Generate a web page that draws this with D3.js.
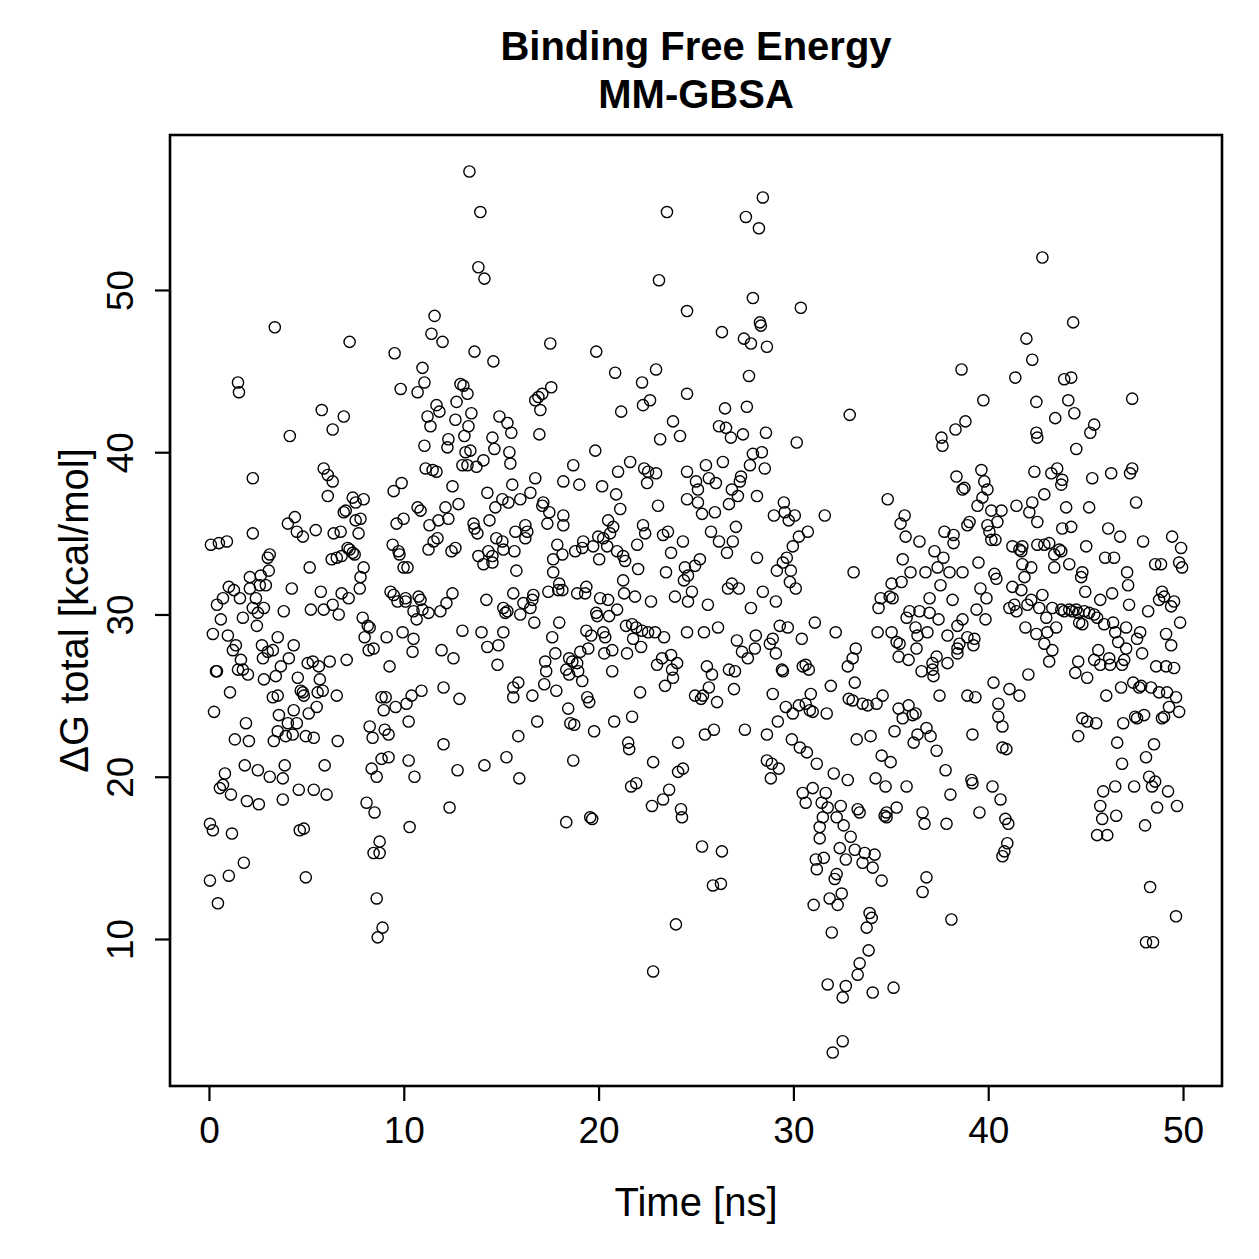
<!DOCTYPE html>
<html>
<head>
<meta charset="utf-8">
<script src="https://cdn.jsdelivr.net/npm/d3@7"></script>
<style>
  body { margin: 0; background: #fff; }
  svg text { font-family: "Liberation Sans", Arial, Helvetica, sans-serif; fill: #000; }
</style>
</head>
<body>
<svg id="chart" width="1259" height="1259"></svg>
<script>
// MM-GBSA total binding free energy per frame, [time ns, dG kcal/mol]
var block0to7 = [
  [3.38,47.7],[1.49,44.3],[1.54,43.7],[5.79,42.6],[6.92,42.2],[6.35,41.4],[4.15,41.0],[7.22,46.8],[2.25,38.4],[5.89,39.0],
  [6.10,38.6],[6.35,38.2],[6.10,37.3],[7.38,37.2],[6.92,36.3],[7.02,36.4],[4.41,36.0],[4.05,35.6],[4.51,35.1],[4.82,34.8],
  [5.48,35.2],[6.40,35.0],[6.76,35.1],[2.25,35.0],[0.10,34.3],[0.51,34.4],[0.92,34.5],[7.12,34.1],[3.12,33.7],[3.02,33.5],
  [6.30,33.4],[6.56,33.5],[6.81,33.6],[5.17,32.9],[3.07,32.7],[2.66,32.4],[2.10,32.3],[1.02,31.7],[1.28,31.5],[2.10,31.6],
  [2.61,31.8],[2.92,31.8],[4.25,31.6],[5.74,31.4],[6.81,31.3],[0.72,31.0],[0.41,30.6],[1.59,31.0],[2.41,31.0],[3.84,30.2],
  [5.23,30.3],[5.89,30.3],[6.35,30.6],[6.66,30.0],[2.25,30.4],[2.82,30.4],[2.51,30.1],[0.61,29.7],[1.74,29.8],[2.46,29.3],
  [0.20,28.8],[0.97,28.7],[1.38,28.1],[1.23,27.8],[2.72,28.1],[3.02,27.7],[3.28,27.8],[3.53,28.6],[4.35,28.1],[4.10,27.3],
  [3.69,26.8],[3.43,26.2],[2.77,27.3],[1.64,27.2],[1.49,26.6],[1.74,26.6],[2.00,26.3],[0.41,26.5],[0.36,26.5],[2.82,26.0],
  [5.07,27.0],[5.33,27.1],[5.64,26.8],[6.20,27.1],[7.07,27.2],[4.56,26.1],[5.69,26.0],[1.08,25.2],[3.28,24.9],[3.53,25.0],
  [4.71,25.3],[4.82,25.2],[4.87,25.0],[5.58,25.2],[5.84,25.3],[6.56,25.0],[0.26,24.0],[1.90,23.3],[3.59,23.8],[4.35,24.1],
  [5.12,23.9],[5.53,24.3],[4.05,23.3],[4.51,23.3],[3.53,22.8],[3.33,22.2],[3.94,22.5],[4.30,22.6],[4.97,22.5],[5.38,22.4],
  [1.33,22.3],[2.05,22.2],[6.61,22.2],[1.84,20.7],[2.51,20.4],[3.12,20.0],[3.79,19.9],[3.89,20.7],[5.94,20.7],[0.82,20.2],
  [0.72,19.5],[0.56,19.3],[1.13,18.9],[1.95,18.5],[2.56,18.3],[3.79,18.6],[4.61,19.2],[5.38,19.2],[6.04,18.9],[0.05,17.1],
  [0.20,16.7],[1.18,16.5],[4.66,16.7],[4.87,16.8],[1.79,14.7],[1.02,13.9],[0.05,13.6],[4.97,13.8],[0.46,12.2]
];

var block7to16 = [
  [13.37,57.3],[13.93,54.8],[13.83,51.4],[14.14,50.7],[11.58,48.4],[11.42,47.3],[11.99,46.8],[9.53,46.1],[13.63,46.2],[14.60,45.6],
  [10.96,45.2],[11.06,44.3],[10.71,43.7],[9.84,43.9],[12.91,44.2],[13.06,44.1],[13.27,43.6],[12.71,43.1],[11.68,42.9],[11.83,42.5],
  [11.22,42.2],[11.37,41.6],[12.65,42.0],[13.47,42.4],[13.32,41.6],[13.11,41.0],[14.91,42.2],[15.32,41.8],[15.52,41.2],[11.06,40.4],
  [12.29,40.8],[12.24,40.3],[14.55,40.9],[14.65,40.2],[13.17,40.0],[13.42,40.1],[13.01,39.2],[13.27,39.2],[13.73,39.1],[14.09,39.5],
  [15.42,40.0],[15.47,39.3],[11.12,39.0],[11.48,38.9],[11.68,38.8],[9.89,38.1],[9.48,37.6],[12.50,37.9],[14.29,37.5],[15.57,38.0],
  [7.94,37.1],[7.53,36.9],[7.78,35.9],[7.53,35.8],[10.71,36.6],[10.86,36.4],[12.81,36.8],[12.14,36.6],[11.78,35.8],[12.29,35.9],
  [14.70,36.6],[15.06,37.1],[15.37,36.9],[9.99,35.9],[9.63,35.6],[14.40,35.8],[11.32,35.5],[13.58,35.6],[13.63,35.3],[13.78,35.0],
  [15.73,35.1],[7.68,35.0],[7.22,34.0],[7.38,33.8],[7.48,33.7],[9.43,34.3],[9.73,33.9],[9.78,33.7],[11.73,34.7],[11.53,34.5],
  [11.27,34.0],[12.65,34.1],[12.45,33.9],[14.75,34.7],[15.06,34.5],[15.11,34.0],[13.83,33.6],[14.09,33.1],[14.34,33.9],[14.55,33.6],
  [14.55,33.2],[15.68,33.9],[7.94,32.9],[7.78,32.3],[7.74,31.6],[9.99,32.9],[10.19,32.9],[15.78,32.7],[7.17,31.0],[9.32,31.4],
  [9.48,31.2],[10.09,31.0],[10.76,31.1],[12.19,30.7],[12.50,31.3],[14.24,30.9],[15.62,31.3],[10.50,30.2],[10.96,30.3],[11.27,30.1],
  [11.88,30.2],[15.11,30.4],[15.32,30.2],[7.89,29.8],[9.68,30.8],[10.09,30.8],[10.86,30.9],[15.21,30.1],[15.98,30.0],[10.66,29.7],
  [8.15,29.3],[8.25,29.2],[7.99,28.6],[8.20,27.8],[8.45,27.9],[9.12,28.6],[9.94,28.9],[10.50,28.5],[10.45,27.7],[9.27,26.8],
  [11.94,27.8],[12.55,27.3],[13.01,29.0],[13.99,28.9],[14.29,28.0],[14.86,28.1],[15.11,28.9],[14.81,26.9],[8.86,24.9],[9.07,24.9],
  [8.97,24.1],[9.58,24.3],[10.14,24.5],[10.40,25.0],[10.91,25.3],[12.04,25.5],[12.86,24.8],[15.62,25.5],[15.88,25.8],[15.62,24.9],
  [10.25,23.4],[8.25,23.1],[8.40,22.4],[9.02,22.9],[9.22,22.6],[12.04,22.0],[15.88,22.5],[8.35,20.5],[8.61,20.0],[8.86,21.1],
  [9.22,21.2],[10.25,21.0],[10.55,20.0],[12.76,20.4],[14.14,20.7],[15.27,21.2],[15.93,19.9],[8.09,18.4],[8.50,17.8],[10.30,16.9],
  [12.35,18.1],[8.76,16.0],[8.45,15.3],[8.76,15.3],[8.61,12.5],[8.91,10.7],[8.66,10.1]
];

var block16to25 = [
  [23.51,54.8],[23.10,50.6],[24.54,48.7],[17.52,46.7],[19.88,46.2],[20.85,44.9],[22.23,44.3],[22.95,45.1],[24.54,43.6],[22.28,42.9],
  [22.64,43.2],[21.16,42.5],[17.57,44.0],[16.75,43.2],[16.91,43.4],[17.11,43.6],[17.01,42.6],[16.96,41.1],[19.83,40.1],[23.82,41.9],
  [24.18,41.0],[23.16,40.8],[18.70,39.2],[21.62,39.4],[21.00,38.8],[22.34,39.0],[22.54,38.8],[22.95,38.7],[22.49,38.1],[24.54,38.8],
  [16.75,38.4],[18.19,38.2],[19.01,38.0],[20.18,37.9],[20.90,37.4],[21.11,36.5],[23.05,36.7],[24.54,37.1],[16.50,37.5],[15.98,37.1],
  [17.16,36.9],[17.11,36.7],[17.47,36.3],[17.37,35.6],[18.19,36.1],[18.19,35.5],[16.24,35.5],[16.34,35.1],[16.24,34.7],[20.49,35.8],
  [20.75,35.4],[20.59,35.0],[19.98,34.8],[20.24,34.7],[20.44,34.2],[19.72,34.2],[19.21,34.5],[19.16,34.1],[18.80,33.9],[17.88,34.3],
  [18.14,33.7],[17.67,33.4],[17.67,32.6],[20.03,33.4],[20.95,33.9],[21.26,33.6],[21.36,33.3],[21.98,34.3],[22.28,35.5],[22.39,35.0],
  [23.31,34.9],[23.56,35.1],[23.72,33.8],[24.33,34.5],[22.03,32.8],[23.46,32.6],[24.43,32.9],[24.38,32.1],[24.59,32.4],[17.98,31.9],
  [17.93,31.5],[18.14,31.5],[17.42,31.4],[18.90,31.3],[19.37,31.7],[19.31,31.3],[20.08,31.0],[20.49,30.9],[21.26,32.1],[21.31,31.3],
  [21.87,31.1],[22.69,30.8],[23.92,31.1],[16.14,30.7],[16.65,31.2],[16.60,30.9],[16.50,30.4],[19.88,30.1],[20.95,30.3],[24.59,30.8],
  [16.70,29.5],[17.98,29.5],[17.62,28.6],[19.93,29.9],[20.54,29.9],[19.37,29.0],[19.62,28.7],[20.24,28.9],[20.34,28.6],[21.41,29.3],
  [21.72,29.4],[21.93,29.2],[22.23,29.0],[22.54,28.9],[22.90,28.9],[23.36,28.6],[21.77,28.5],[22.18,28.0],[21.46,27.6],[24.54,28.9],
  [19.06,27.7],[19.47,27.9],[20.29,27.6],[20.70,27.8],[17.78,27.6],[17.26,27.1],[17.31,26.5],[17.21,25.7],[17.83,25.3],[18.49,27.3],
  [18.65,27.1],[18.90,27.0],[18.34,26.6],[18.49,26.3],[18.95,26.5],[19.16,25.9],[20.70,26.5],[23.00,26.9],[23.26,27.3],[23.72,27.5],
  [24.03,27.0],[23.77,26.6],[23.82,26.1],[23.41,25.6],[16.60,25.0],[19.42,24.9],[19.52,24.6],[22.13,25.2],[16.85,23.4],[18.44,24.2],
  [18.55,23.3],[18.75,23.2],[19.77,22.8],[20.80,23.4],[21.72,23.7],[21.52,22.1],[21.57,21.7],[24.08,22.1],[18.70,21.0],[22.80,20.9],
  [24.08,20.3],[24.33,20.5],[21.67,19.4],[21.93,19.6],[23.62,19.2],[23.31,18.6],[22.74,18.2],[24.23,18.0],[24.28,17.5],[18.34,17.2],
  [19.57,17.5],[19.67,17.4],[23.97,10.9],[22.80,8.0]
];

var block25to33 = [
  [28.43,55.7],[27.56,54.5],[28.23,53.8],[27.92,49.5],[30.38,48.9],[28.28,48.0],[28.33,47.8],[26.33,47.4],[27.46,47.0],[27.82,46.7],
  [28.64,46.5],[27.72,44.7],[26.49,42.7],[27.61,42.8],[32.89,42.3],[26.18,41.6],[26.54,41.5],[26.79,40.9],[27.41,41.1],[28.59,41.2],
  [30.17,40.6],[27.92,39.9],[28.38,40.0],[27.77,39.2],[28.53,39.0],[26.38,39.4],[25.51,39.2],[25.00,38.2],[25.66,38.4],[26.02,38.1],
  [25.10,37.7],[27.31,38.5],[27.25,38.2],[26.84,37.7],[27.15,37.3],[26.69,36.8],[28.13,37.3],[25.10,36.9],[25.31,36.2],[25.97,36.3],
  [29.51,36.9],[29.56,36.3],[29.76,35.8],[30.07,36.1],[29.00,36.1],[31.61,36.1],[30.74,35.1],[30.28,34.8],[29.97,34.2],[25.77,35.1],
  [26.18,34.5],[26.89,34.5],[27.05,35.4],[26.59,33.8],[28.13,33.5],[25.20,33.4],[24.95,33.0],[29.66,33.5],[29.46,33.2],[29.15,32.7],
  [29.87,32.7],[29.82,32.0],[30.12,31.6],[33.09,32.6],[26.84,31.9],[26.64,31.6],[27.20,31.6],[24.79,31.4],[25.61,30.6],[28.43,31.4],
  [29.10,30.8],[27.82,30.4],[25.41,28.9],[26.13,29.2],[27.10,28.4],[27.36,27.7],[27.66,27.3],[28.07,28.7],[28.02,27.9],[28.79,28.2],
  [28.94,28.5],[29.10,27.6],[29.30,29.3],[29.71,29.2],[30.43,28.5],[31.10,29.5],[32.17,28.9],[25.56,26.8],[25.82,26.3],[26.69,26.6],
  [27.00,26.5],[25.66,25.5],[26.95,25.4],[26.08,24.6],[24.95,25.0],[25.26,24.8],[25.36,25.0],[28.94,25.1],[29.41,26.6],[29.46,26.5],
  [30.48,26.8],[30.63,26.9],[30.79,26.6],[31.92,25.6],[32.79,26.8],[33.04,27.3],[33.20,27.9],[33.15,25.8],[32.84,24.8],[33.04,24.7],
  [29.61,24.3],[29.97,23.9],[30.28,24.4],[30.63,24.5],[30.89,25.1],[30.84,24.1],[30.99,24.0],[31.71,23.9],[29.20,23.4],[28.64,22.6],
  [27.51,22.9],[25.46,22.6],[25.92,22.9],[29.92,22.3],[30.33,21.8],[30.69,21.5],[31.20,20.8],[33.25,22.3],[28.64,21.0],[28.89,20.8],
  [29.25,20.5],[28.84,19.9],[32.07,20.2],[32.79,19.8],[30.48,19.0],[30.63,18.4],[30.99,19.3],[31.66,19.0],[31.45,18.4],[31.76,18.1],
  [32.43,18.2],[33.30,18.0],[33.40,17.8],[31.51,17.5],[31.35,16.9],[31.35,16.2],[32.22,17.5],[32.58,17.0],[32.94,16.3],[33.15,15.5],
  [32.38,15.6],[32.69,14.9],[31.15,14.9],[31.20,14.3],[31.56,15.0],[32.22,14.0],[32.12,13.7],[32.48,12.8],[31.86,12.5],[32.27,12.1],
  [31.04,12.1],[25.31,15.7],[26.33,15.4],[25.87,13.3],[26.28,13.4],[31.97,10.4],[33.40,8.5],[33.30,7.8],[31.76,7.2],[32.69,7.1],
  [32.53,6.4],[32.53,3.7],[32.02,3.0]
];

var block33to43 = [
  [38.63,45.1],[41.39,44.6],[39.75,43.2],[42.47,43.1],[41.96,47.0],[42.26,45.7],[42.78,52.0],[38.83,41.9],[38.32,41.4],[37.60,40.9],
  [37.65,40.4],[42.47,41.2],[42.52,40.9],[39.65,38.9],[39.80,38.2],[39.96,37.7],[39.70,37.2],[39.45,36.7],[38.78,37.8],[38.68,37.7],
  [38.37,38.5],[42.37,38.8],[34.84,37.1],[35.71,36.1],[35.50,35.6],[40.68,36.4],[40.16,36.4],[40.47,35.7],[39.96,35.5],[40.06,35.1],
  [40.16,34.6],[40.37,34.6],[39.04,35.7],[38.93,35.5],[41.45,36.7],[42.26,36.9],[42.11,36.3],[42.52,35.7],[35.76,34.8],[36.47,34.5],
  [37.75,35.1],[38.22,34.9],[38.22,34.4],[41.24,34.2],[41.60,34.0],[41.75,34.2],[41.70,33.9],[42.52,34.3],[37.24,33.9],[37.70,33.5],
  [37.40,32.9],[35.61,33.4],[36.01,32.6],[36.78,32.6],[38.01,32.6],[38.68,32.6],[39.50,33.2],[40.32,32.5],[40.42,32.2],[41.75,33.1],
  [42.21,32.9],[41.86,32.3],[35.04,31.9],[35.55,32.0],[34.48,31.0],[34.94,31.1],[35.09,31.0],[37.55,31.8],[36.99,31.0],[38.17,30.9],
  [39.60,31.6],[39.91,31.0],[41.24,31.7],[41.70,31.5],[42.21,30.9],[34.37,30.4],[35.96,30.2],[36.47,30.2],[36.99,30.1],[39.40,30.3],
  [41.09,30.4],[41.34,30.6],[41.45,30.2],[42.01,30.6],[35.81,29.8],[37.45,29.7],[34.32,28.9],[35.04,28.9],[35.30,28.3],[35.45,28.2],
  [35.40,27.4],[35.91,27.2],[36.32,27.9],[36.27,29.2],[36.37,28.7],[36.88,28.9],[37.35,27.4],[37.14,27.0],[37.14,26.6],[37.19,26.2],
  [36.58,26.5],[37.91,27.0],[37.91,28.7],[38.42,29.3],[38.68,29.7],[38.52,28.2],[38.42,27.9],[38.42,27.6],[38.93,28.6],[39.29,28.5],
  [39.24,28.1],[39.86,29.7],[41.91,29.2],[42.47,28.8],[42.06,26.3],[40.27,25.8],[41.09,25.4],[41.60,25.0],[37.50,25.0],[38.93,25.0],
  [39.34,24.9],[40.52,24.5],[40.52,23.7],[40.73,23.1],[39.19,22.6],[40.73,21.8],[40.93,21.7],[33.55,24.5],[33.81,24.4],[34.27,24.5],
  [34.58,25.0],[35.40,24.2],[35.91,24.4],[36.12,23.8],[36.27,23.9],[35.61,23.6],[35.19,22.8],[33.96,22.5],[36.17,22.1],[36.37,22.6],
  [36.83,23.0],[37.04,22.5],[37.35,21.6],[34.53,21.3],[34.99,20.9],[37.81,20.4],[34.22,19.9],[34.73,19.4],[35.81,19.4],[38.06,18.9],
  [39.14,19.8],[39.19,19.6],[40.22,19.4],[40.63,18.6],[39.55,17.8],[35.30,18.1],[34.78,17.8],[34.68,17.6],[34.78,17.5],[36.63,17.8],
  [36.73,17.1],[37.86,17.1],[40.88,17.4],[41.03,17.1],[40.98,15.9],[40.83,15.4],[40.73,15.1],[33.66,15.3],[34.17,15.2],[33.55,14.7],
  [34.07,14.4],[34.53,13.6],[36.83,13.8],[36.63,12.9],[33.91,11.6],[34.02,11.3],[33.76,10.7],[38.11,11.2],[33.86,9.3],[34.07,6.7],
  [35.14,7.0]
];

var block43to50 = [
  [44.36,48.0],[43.90,44.5],[44.26,44.6],[44.11,43.2],[44.42,42.4],[43.44,42.1],[47.39,43.3],[45.44,41.7],[45.24,41.2],[44.52,40.2],
  [43.24,38.7],[43.54,39.0],[43.80,38.3],[43.75,38.0],[45.34,38.4],[46.31,38.7],[47.39,39.0],[47.28,38.7],[42.88,37.4],[44.00,36.6],
  [45.18,36.6],[47.59,36.9],[43.80,35.3],[44.26,35.4],[46.16,35.3],[46.77,34.8],[47.95,34.5],[49.44,34.8],[49.90,34.1],[42.88,34.3],
  [43.13,34.4],[43.39,33.7],[43.65,34.0],[43.75,33.9],[45.03,34.2],[46.00,33.5],[46.46,33.5],[43.39,32.9],[44.16,33.1],[44.83,32.6],
  [44.77,32.3],[44.98,31.4],[47.13,32.6],[47.18,31.8],[48.57,33.1],[48.87,33.1],[49.80,33.2],[49.95,32.9],[42.78,31.2],[42.62,30.4],
  [42.98,29.8],[43.03,28.9],[42.88,28.2],[43.29,27.8],[43.13,27.1],[43.49,29.2],[45.75,30.9],[46.36,31.3],[47.23,30.6],[48.21,30.2],
  [48.92,31.4],[48.77,30.9],[49.03,31.1],[49.39,30.5],[49.54,30.8],[49.85,29.5],[43.29,30.4],[43.75,30.3],[43.90,30.2],[44.16,30.3],
  [44.31,30.2],[44.52,30.3],[44.62,30.1],[44.93,30.2],[45.18,30.1],[45.44,30.0],[45.59,29.8],[44.67,29.5],[44.83,29.4],[45.95,29.4],
  [46.41,29.5],[46.52,28.9],[47.08,29.2],[47.80,28.9],[47.64,28.5],[46.67,28.3],[47.08,27.9],[47.90,27.6],[49.13,28.8],[49.39,28.1],
  [45.65,27.8],[45.44,27.2],[45.75,26.9],[46.21,27.3],[46.26,26.9],[46.98,27.2],[46.87,26.9],[44.62,27.1],[44.47,26.4],[45.08,26.1],
  [48.62,26.8],[49.13,26.8],[49.54,26.7],[46.06,25.0],[46.82,25.5],[47.44,25.8],[47.85,25.6],[47.75,25.5],[48.36,25.5],[48.77,25.2],
  [49.18,25.2],[49.64,24.9],[49.28,24.3],[49.80,24.0],[49.03,23.7],[48.92,23.6],[44.83,23.6],[45.08,23.4],[45.54,23.3],[44.62,22.5],
  [46.93,23.3],[47.54,23.7],[47.64,23.6],[48.00,23.8],[46.62,22.1],[48.51,22.0],[48.10,21.2],[46.87,20.8],[46.52,19.4],[47.49,19.4],
  [48.26,20.0],[48.41,19.4],[48.57,19.7],[45.90,19.1],[45.75,18.2],[45.85,17.4],[46.57,17.6],[45.59,16.4],[46.11,16.4],[49.23,19.1],
  [48.67,18.1],[49.69,18.2],[48.05,17.0],[48.31,13.2],[49.64,11.4],[48.10,9.8],[48.46,9.8]
];

var xTicks = [0, 10, 20, 30, 40, 50];
var yTicks = [10, 20, 30, 40, 50];
var titleLines = ["Binding Free Energy", "MM-GBSA"];
var xLabel = "Time [ns]";
var yLabel = "\u0394G total [kcal/mol]";

var frames = block0to7.concat(block7to16, block16to25, block25to33, block33to43, block43to50);

var svg = d3.select("#chart");

var plotLeft = 170, plotRight = 1222, plotTop = 135, plotBottom = 1086;

// R style: data range padded by 4% on each side
var x = d3.scaleLinear().domain([-2, 52]).range([plotLeft, plotRight]);
var y = d3.scaleLinear().domain([0.94, 59.55]).range([plotBottom, plotTop]);

// points
svg.append("g")
    .selectAll("circle")
    .data(frames)
    .enter().append("circle")
    .attr("cx", function(d){ return x(d[0]); })
    .attr("cy", function(d){ return y(d[1]); })
    .attr("r", 5.6)
    .style("fill", "none")
    .style("stroke", "#000")
    .style("stroke-width", 1.4);

// x axis
var xAxis = svg.append("g")
    .attr("transform", "translate(0," + plotBottom + ")")
    .call(d3.axisBottom(x).tickValues(xTicks).tickSize(15).tickSizeOuter(0).tickPadding(16));
xAxis.select(".domain")
    .attr("d", "M" + x(xTicks[0]) + ",0H" + x(xTicks[xTicks.length - 1]))
    .style("stroke-width", 2.2);
xAxis.selectAll(".tick line").style("stroke-width", 2.2);
xAxis.selectAll(".tick text")
    .style("font-size", "37px")
    .style("font-family", "'Liberation Sans', Arial, sans-serif");

// y axis, labels parallel to axis like R
var yAxis = svg.append("g")
    .attr("transform", "translate(" + plotLeft + ",0)")
    .call(d3.axisLeft(y).tickValues(yTicks).tickSize(15).tickSizeOuter(0));
yAxis.select(".domain")
    .attr("d", "M0," + y(yTicks[0]) + "V" + y(yTicks[yTicks.length - 1]))
    .style("stroke-width", 2.2);
yAxis.selectAll(".tick line").style("stroke-width", 2.2);
yAxis.selectAll(".tick text")
    .attr("x", 0)
    .attr("y", -37)
    .attr("dy", null)
    .attr("transform", "rotate(-90)")
    .style("text-anchor", "middle")
    .style("font-size", "37px")
    .style("font-family", "'Liberation Sans', Arial, sans-serif");

// plot box
svg.append("rect")
    .attr("x", plotLeft)
    .attr("y", plotTop)
    .attr("width", plotRight - plotLeft)
    .attr("height", plotBottom - plotTop)
    .style("fill", "none")
    .style("stroke", "#000")
    .style("stroke-width", 2.6);

// titles
svg.selectAll(".title")
    .data(titleLines)
    .enter().append("text")
    .attr("class", "title")
    .attr("x", (plotLeft + plotRight) / 2)
    .attr("y", function(d, i){ return 60 + i * 48; })
    .attr("text-anchor", "middle")
    .style("font-size", "40px")
    .style("font-weight", "bold")
    .text(function(d){ return d; });

svg.append("text")
    .attr("x", (plotLeft + plotRight) / 2)
    .attr("y", 1216)
    .attr("text-anchor", "middle")
    .style("font-size", "40px")
    .text(xLabel);

svg.append("text")
    .attr("transform", "translate(88," + ((plotTop + plotBottom) / 2) + ") rotate(-90)")
    .attr("text-anchor", "middle")
    .style("font-size", "40px")
    .text(yLabel);
</script>
</body>
</html>
